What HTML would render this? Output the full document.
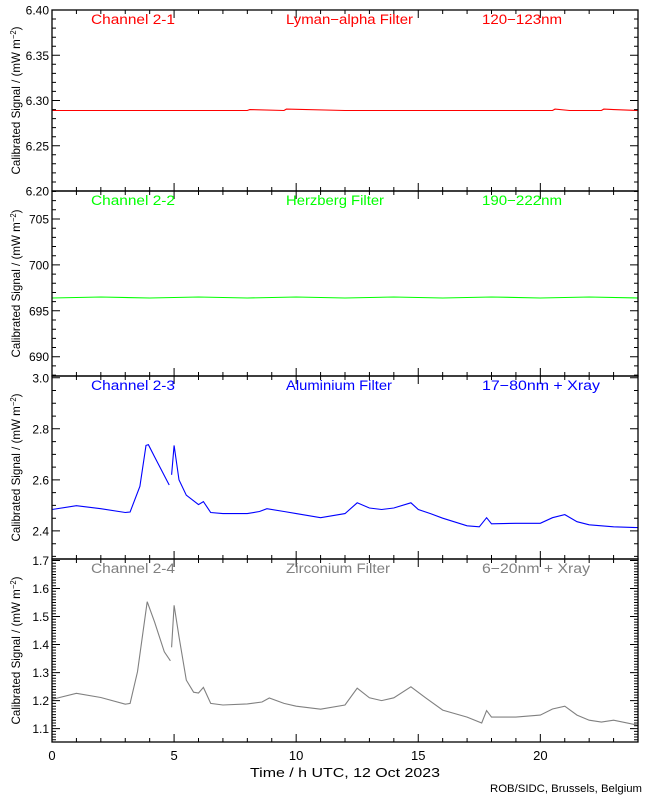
<!DOCTYPE html>
<html><head><meta charset="utf-8"><style>
html,body{margin:0;padding:0;background:#fff;}
svg{display:block;font-family:"Liberation Sans",sans-serif;}
</style></head><body>
<svg id="chart" width="650" height="800" xmlns="http://www.w3.org/2000/svg"></svg>
<script>
// ---- data ----
const xTickHours = [0, 5, 10, 15, 20];
const xTickLabels = ["0", "5", "10", "15", "20"];
const panelNames = ["Channel 2-1", "Channel 2-2", "Channel 2-3", "Channel 2-4"];
const filterNames = ["Lyman\u2212alpha Filter", "Herzberg Filter", "Aluminium Filter", "Zirconium Filter"];
const bandNames = ["120\u2212123nm", "190\u2212222nm", "17\u221280nm + Xray", "6\u221220nm + Xray"];
const panelColors = ["#ff0000", "#00ff00", "#0000ff", "#808080"];
const yTicks1 = [6.20, 6.25, 6.30, 6.35, 6.40];
const yTickLabels1 = ["6.20", "6.25", "6.30", "6.35", "6.40"];
const yTicks2 = [690, 695, 700, 705];
const yTickLabels2 = ["690", "695", "700", "705"];
const yTicks3 = [2.4, 2.6, 2.8, 3.0];
const yTickLabels3 = ["2.4", "2.6", "2.8", "3.0"];
const yTicks4 = [1.1, 1.2, 1.3, 1.4, 1.5, 1.6, 1.7];
const yTickLabels4 = ["1.1", "1.2", "1.3", "1.4", "1.5", "1.6", "1.7"];

const hours1 = [0, 8, 8.1, 9.5, 9.6, 12, 20.5, 20.6, 21.2, 22.5, 22.6, 23, 24];
const vals1 = [6.289, 6.289, 6.290, 6.289, 6.2905, 6.289, 6.289, 6.2905, 6.289, 6.289, 6.2905, 6.290, 6.289];
const hours2 = [0, 2, 4, 6, 8, 10, 12, 14, 16, 18, 20, 22, 24];
const vals2 = [696.4, 696.5, 696.4, 696.5, 696.4, 696.5, 696.4, 696.5, 696.4, 696.5, 696.4, 696.5, 696.4];

const hours3 = [0, 1, 2, 3, 3.2, 3.6, 3.85, 3.95, 4.2, 4.8, null, 4.9, 5.0, 5.2, 5.5, 6.0, 6.2, 6.5, 7, 8, 8.5, 8.8, 9.5, 10, 11, 12, 12.5, 13, 13.5, 14, 14.7, 15, 15.5, 16, 17, 17.5, 17.8, 18, 19, 20, 20.5, 21, 21.5, 22, 23, 24];
const vals3 = [2.484, 2.499, 2.487, 2.472, 2.474, 2.575, 2.735, 2.738, 2.69, 2.58, null, 2.62, 2.735, 2.60, 2.54, 2.503, 2.515, 2.472, 2.468, 2.468, 2.476, 2.487, 2.476, 2.468, 2.452, 2.468, 2.51, 2.49, 2.484, 2.49, 2.51, 2.484, 2.468, 2.45, 2.42, 2.416, 2.452, 2.428, 2.43, 2.43, 2.452, 2.464, 2.436, 2.424, 2.416, 2.413];

const hours4 = [0, 1, 2, 3, 3.2, 3.5, 3.9, 4.2, 4.6, 4.85, null, 4.9, 5.0, 5.2, 5.5, 5.8, 6, 6.2, 6.5, 7, 8, 8.6, 8.9, 9.5, 10, 11, 12, 12.5, 13, 13.5, 14, 14.7, 15.3, 16, 17, 17.6, 17.8, 18, 19, 20, 20.5, 21, 21.5, 22, 22.5, 23, 24];
const vals4 = [1.204, 1.226, 1.211, 1.187, 1.19, 1.303, 1.553, 1.48, 1.374, 1.342, null, 1.39, 1.54, 1.428, 1.273, 1.23, 1.227, 1.247, 1.19, 1.184, 1.188, 1.195, 1.209, 1.19, 1.18, 1.169, 1.184, 1.244, 1.21, 1.20, 1.21, 1.249, 1.21, 1.166, 1.141, 1.12, 1.164, 1.141, 1.141, 1.148, 1.17, 1.18, 1.148, 1.13, 1.123, 1.13, 1.112];

// ---- layout ----
const NS = "http://www.w3.org/2000/svg";
const svg = document.getElementById("chart");
const X0 = 52, X1 = 638;
function xScale(h) { return X0 + (X1 - X0) * h / 24; }
const panels = [
  {top: 10, bot: 191, vTop: 6.40, vBot: 6.20, ticks: yTicks1, labels: yTickLabels1, minor: 0.01, hours: hours1, vals: vals1},
  {top: 191, bot: 376, vTop: 708.05, vBot: 687.9, ticks: yTicks2, labels: yTickLabels2, minor: 1, hours: hours2, vals: vals2},
  {top: 376, bot: 559, vTop: 3.007, vBot: 2.29, ticks: yTicks3, labels: yTickLabels3, minor: 0.05, hours: hours3, vals: vals3},
  {top: 559, bot: 742, vTop: 1.7055, vBot: 1.052, ticks: yTicks4, labels: yTickLabels4, minor: 0.01, hours: hours4, vals: vals4}
];
function mk(tag, attrs, parent) {
  const e = document.createElementNS(NS, tag);
  for (const k in attrs) e.setAttribute(k, attrs[k]);
  (parent || svg).appendChild(e);
  return e;
}

panels.forEach((p, i) => {
  const yScale = v => p.top + (p.vTop - v) / (p.vTop - p.vBot) * (p.bot - p.top);
  const g = mk("g", {});
  
  

  let d = "", pen = false;
  for (let k = 0; k < p.hours.length; k++) {
    if (p.hours[k] === null) { pen = false; continue; }
    d += (pen ? "L" : "M") + xScale(p.hours[k]).toFixed(1) + " " + yScale(p.vals[k]).toFixed(1) + " ";
    pen = true;
  }
  const line = mk("path", {d: d, fill: "none", stroke: panelColors[i], "stroke-width": "1.1"}, g);
  
  

  const fr = mk("rect", {x: X0, y: p.top, width: X1 - X0, height: p.bot - p.top, fill: "none", stroke: "#000", "stroke-width": "1.3"}, g);
  
  

  let td = "";
  for (let h = 1; h < 24; h++) {
    const x = xScale(h), len = (h % 5 === 0) ? 8 : 4;
    td += `M${x} ${p.top}v${len}M${x} ${p.bot}v${-len}`;
  }
  const lo = Math.min(p.vTop, p.vBot), hi = Math.max(p.vTop, p.vBot);
  const start = Math.ceil(lo / p.minor - 1e-6);
  for (let n = start; n * p.minor <= hi + 1e-9; n++) {
    const v = n * p.minor, y = yScale(v);
    const isMajor = p.ticks.some(t => Math.abs(t - v) < p.minor / 10);
    const len = isMajor ? 8 : 4;
    td += `M${X0} ${y.toFixed(1)}h${len}M${X1} ${y.toFixed(1)}h${-len}`;
  }
  const ticks = mk("path", {d: td, stroke: "#000", "stroke-width": "1"}, g);
  
  

  p.ticks.forEach((t, k) => {
    const tl = mk("text", {x: 49, y: (yScale(t) + 4.5).toFixed(1), "text-anchor": "end", "font-size": "12", fill: "#000"}, g);
    tl.textContent = p.labels[k];
    
    
  });

  const cy = (p.top + p.bot) / 2;
  const yt = mk("text", {x: 0, y: 0, transform: `translate(20,${cy}) rotate(-90)`, "text-anchor": "middle", "font-size": "12", fill: "#000", textLength: 148, lengthAdjust: "spacingAndGlyphs"}, g);
  
  
  yt.innerHTML = 'Calibrated Signal  /  (mW  m<tspan dy="-4" font-size="8">\u22122</tspan><tspan dy="4">)</tspan>';

  const base = p.top + 14;
  const texts = [[91, panelNames[i], 84, 'channel-label'], [286, filterNames[i], [127, 98, 106, 104][i], 'filter-label'], [482, bandNames[i], [80, 80, 118, 108][i], 'band-label']];
  texts.forEach(([x, s, w, nm]) => {
    const t = mk("text", {x: x, y: base, "font-size": "13.5", fill: panelColors[i], textLength: w, lengthAdjust: "spacingAndGlyphs"}, g);
    t.textContent = s;
    
    
  });
});

xTickHours.forEach((h, k) => {
  const t = mk("text", {x: xScale(h), y: 760, "text-anchor": "middle", "font-size": "13", fill: "#000"});
  t.textContent = xTickLabels[k];
  
  
});
const xt = mk("text", {x: 250, y: 777, "font-size": "13", fill: "#000", textLength: 190, lengthAdjust: "spacingAndGlyphs"});
xt.textContent = "Time / h UTC, 12 Oct 2023";


const ft = mk("text", {x: 490, y: 792, "font-size": "11", fill: "#000", textLength: 152, lengthAdjust: "spacingAndGlyphs"});
ft.textContent = "ROB/SIDC, Brussels, Belgium";


</script>
</body></html>
